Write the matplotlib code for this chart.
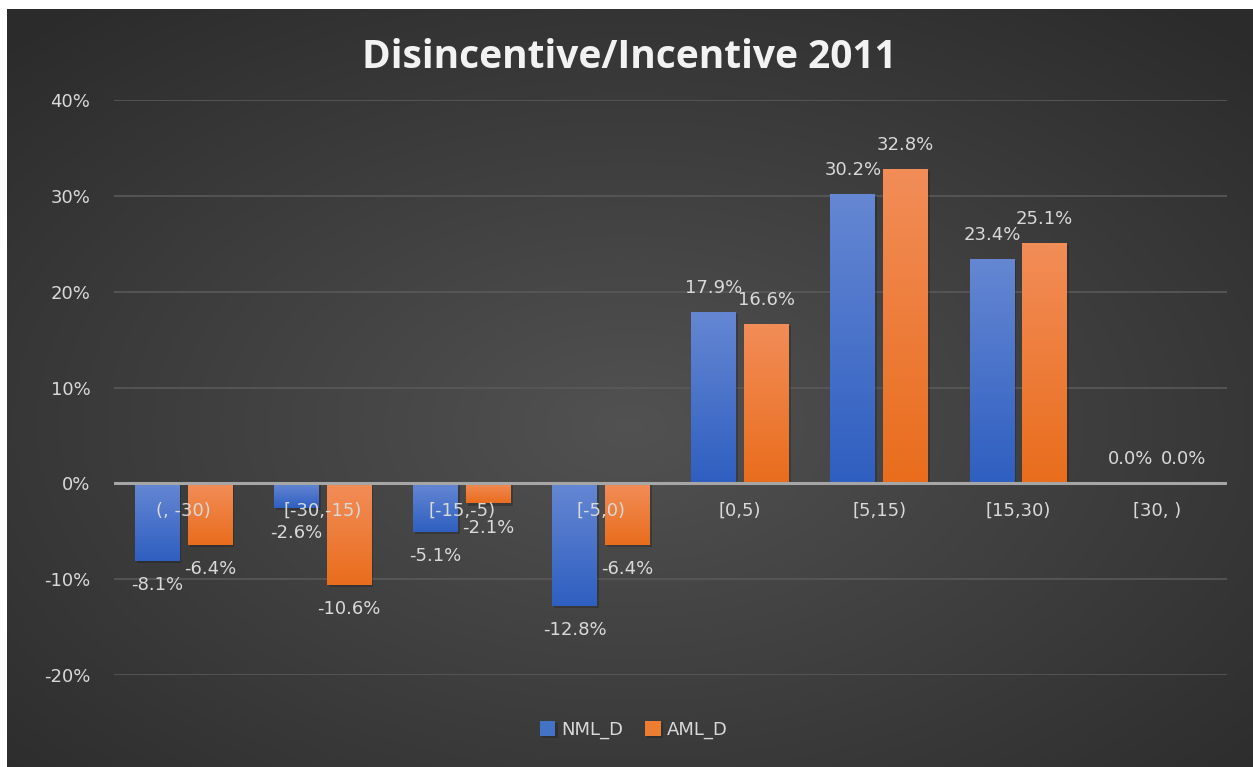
import numpy as np
import matplotlib
matplotlib.use('Agg')
import matplotlib.pyplot as plt
from matplotlib.ticker import PercentFormatter
import matplotlib.patheffects as pe

plt.rcParams['axes.unicode_minus'] = False

categories = ['(, -30)', '[-30,-15)', '[-15,-5)', '[-5,0)', '[0,5)', '[5,15)', '[15,30)', '[30, )']
nml_d = [-0.081, -0.026, -0.051, -0.128, 0.179, 0.302, 0.234, 0.0]
aml_d = [-0.064, -0.106, -0.021, -0.064, 0.166, 0.328, 0.251, 0.0]
yticks = [-0.2, -0.1, 0.0, 0.1, 0.2, 0.3, 0.4]

txt = '#d9d9d9'

fig = plt.figure(figsize=(12.53, 7.67), dpi=100, facecolor='white')

# radial gradient background
bg = fig.add_axes([7/1253, 0, 1 - 7/1253, 1 - 9/767])
yy, xx = np.mgrid[0:1:300j, 0:1:500j]
r = np.sqrt(((xx - 0.5) / 0.75) ** 2 + ((yy - 0.45) / 0.75) ** 2)
r = np.clip(r / 0.95, 0, 1)
shade = 0.32 - 0.15 * r
bg.imshow(np.dstack([shade, shade, shade]), aspect='auto', extent=[0, 1, 0, 1], origin='lower')
bg.axis('off')

ax = fig.add_axes([114/1253, 1 - 675/767, (1227 - 114)/1253, (675 - 100)/767])
ax.set_facecolor('none')

x = np.arange(len(categories))
w = 0.32
off = 0.19

shadow = [pe.SimplePatchShadow(offset=(1.5, -1.5), shadow_rgbFace='black', alpha=0.2), pe.Normal()]
b1 = ax.bar(x - off, nml_d, w, color='#4472c4', zorder=3, path_effects=shadow)
b2 = ax.bar(x + off, aml_d, w, color='#ed7d31', zorder=3, path_effects=shadow)

# vertical gradient fill for each bar
def grad(bars, top, bot):
    top = np.array(matplotlib.colors.to_rgb(top))
    bot = np.array(matplotlib.colors.to_rgb(bot))
    t = np.linspace(0, 1, 64)[:, None]
    img = (top * (1 - t) + bot * t)[:, None, :]
    for b in bars:
        h = b.get_height()
        if h == 0:
            continue
        x0 = b.get_x()
        y0, y1 = (0, h) if h > 0 else (h, 0)
        im = ax.imshow(img, aspect='auto', extent=[x0, x0 + b.get_width(), y0, y1],
                       origin='upper', zorder=3.5)
        im.set_clip_path(b)

grad(b1, '#6587d3', '#2f5fc1')
grad(b2, '#f28d58', '#e96d1d')

ax.axhline(0, color='#a6a6a6', lw=2.2, zorder=4)

ax.bar_label(b1, labels=['%.1f%%' % (v * 100) for v in nml_d], padding=11, color=txt, fontsize=13, zorder=6)
ax.bar_label(b2, labels=['%.1f%%' % (v * 100) for v in aml_d], padding=11, color=txt, fontsize=13, zorder=6)

for i, c in enumerate(categories):
    ax.text(i, -0.029, c, ha='center', va='center', color=txt, fontsize=13, zorder=6)

ax.set_xlim(-0.5, len(categories) - 0.5)
ax.set_ylim(-0.2, 0.4)
ax.set_yticks(yticks)
ax.yaxis.set_major_formatter(PercentFormatter(1.0, decimals=0))
ax.tick_params(axis='y', length=0, pad=17, labelsize=13, labelcolor=txt)
ax.set_xticks([])
ax.grid(axis='y', color='#595959', lw=1.2, zorder=0)
for s in ax.spines.values():
    s.set_visible(False)

fig.text(0.502, 1 - 57/767, 'Disincentive/Incentive 2011', ha='center', va='center',
         color='#f2f2f2', fontsize=28, fontweight='bold', family='Open Sans')

leg = fig.legend([b1, b2], ['NML_D', 'AML_D'], loc='center', bbox_to_anchor=(0.506, 1 - 730/767),
                 ncol=2, frameon=False, fontsize=13, labelcolor=txt, handlelength=0.85,
                 handleheight=0.85, handletextpad=0.35, columnspacing=1.2)

fig.savefig('out.png', dpi=100, facecolor='white')
